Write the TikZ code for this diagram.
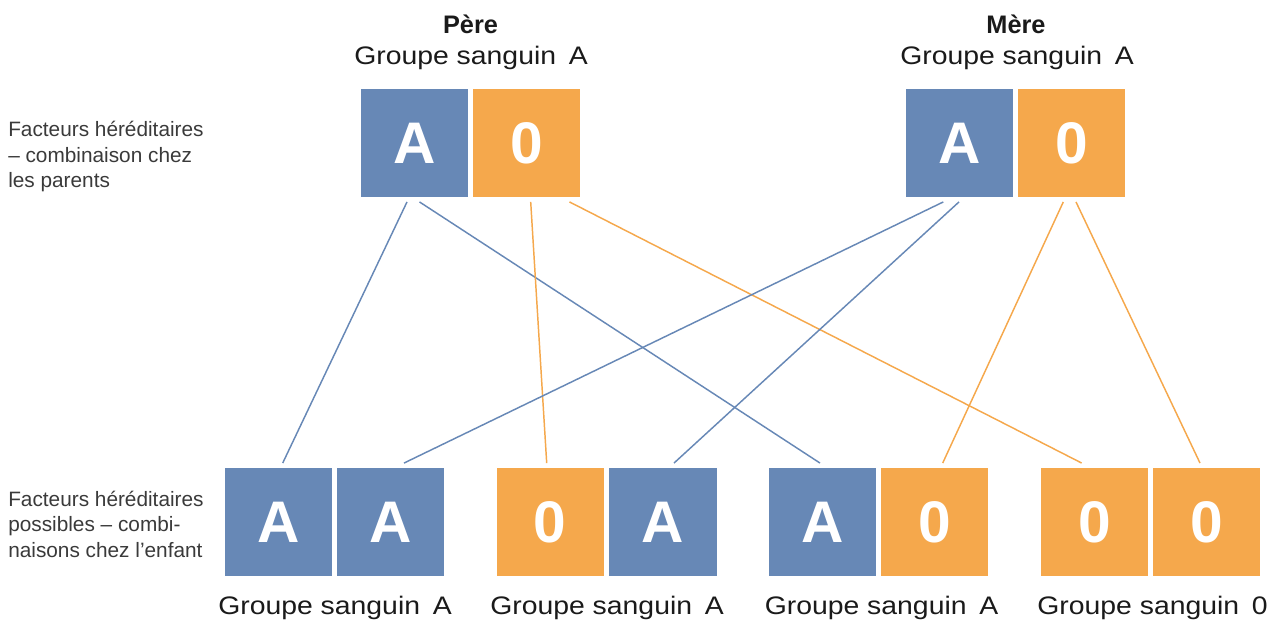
\documentclass[tikz,border=0pt]{standalone}
\usepackage{fontspec}
\setmainfont{Liberation Sans}
\newfontfamily\grpfont[FakeStretch=1.12]{Liberation Sans}
\usetikzlibrary{calc}
\definecolor{allA}{HTML}{6788B6}
\definecolor{all0}{HTML}{F5A84C}
\definecolor{txt}{HTML}{1A1A1A}
\definecolor{side}{HTML}{3A3A3A}
\tikzset{
  gbox/.style={rectangle, inner sep=0pt, minimum width=80.5pt, minimum height=80.5pt,
    text=white, font=\fontsize{44}{44}\selectfont\bfseries},
  boxA/.style={gbox, fill=allA},
  box0/.style={gbox, fill=all0},
  lineA/.style={draw=allA, line width=1.1pt},
  line0/.style={draw=all0, line width=1.1pt},
  grp/.style={inner sep=0pt, anchor=base, text=txt, font=\grpfont\fontsize{19}{19}\selectfont},
  parent/.style={inner sep=0pt, anchor=base, text=txt, font=\fontsize{19}{19}\selectfont\bfseries},
  sidetxt/.style={inner sep=0pt, anchor=base west, text=side, font=\fontsize{15.6}{15.6}\selectfont}
}
\begin{document}
\begin{tikzpicture}[x=0.75pt, y=-0.75pt]
\useasboundingbox (0,0) rectangle (1286,620);
% parents
\node[boxA] (pA) at (414.5,143) {A};
\node[box0] (p0) at (526.7,143) {0};
\node[boxA] (mA) at (959.5,143) {A};
\node[box0] (m0) at (1071.5,143) {0};
% children
\node[boxA] (c1) at (278.5,522) {A};
\node[boxA] (c2) at (390.8,522) {A};
\node[box0] (c3) at (550.2,522) {0};
\node[boxA] (c4) at (663,522) {A};
\node[boxA] (c5) at (822.5,522) {A};
\node[box0] (c6) at (934.7,522) {0};
\node[box0] (c7) at (1094.5,522) {0};
\node[box0] (c8) at (1206.6,522) {0};
% connectors
\draw[lineA] ($(pA.south)+(-7.5,5)$) -- ($(c1.north)+(4.2,-5)$);
\draw[lineA] ($(pA.south)+(5,5)$) -- ($(c5.north)+(-2.5,-5)$);
\draw[line0] ($(p0.south)+(4,5)$) -- ($(c3.north)+(-3.5,-5)$);
\draw[line0] ($(p0.south)+(42.8,5)$) -- ($(c7.north)+(-12.8,-5)$);
\draw[lineA] ($(mA.south)+(-16.2,5)$) -- ($(c2.north)+(13.2,-5)$);
\draw[lineA] ($(mA.south)+(-0.5,5)$) -- ($(c4.north)+(11,-5)$);
\draw[line0] ($(m0.south)+(-8.2,5)$) -- ($(c6.north)+(8,-5)$);
\draw[line0] ($(m0.south)+(4.5,5)$) -- ($(c8.north)+(-6.6,-5)$);
% labels
\node[parent] (tp) at (470.5,33.3) {Père};
\node[grp] (gp) at (471,65) {Groupe sanguin\hspace{0.5em}A};
\node[parent] (tm) at (1016,33.3) {Mère};
\node[grp] (gm) at (1017,65) {Groupe sanguin\hspace{0.5em}A};
\node[grp] (g1) at (335,614.3) {Groupe sanguin\hspace{0.5em}A};
\node[grp] (g2) at (607,614.3) {Groupe sanguin\hspace{0.5em}A};
\node[grp] (g3) at (881.5,614.3) {Groupe sanguin\hspace{0.5em}A};
\node[grp] (g4) at (1152.5,614.3) {Groupe sanguin\hspace{0.5em}0};
% side text
\node[sidetxt] (s1) at (8,136.7) {Facteurs héréditaires};
\node[sidetxt] (s2) at (8,162.2) {– combinaison chez};
\node[sidetxt] (s3) at (8,187.7) {les parents};
\node[sidetxt] (s4) at (8,506) {Facteurs héréditaires};
\node[sidetxt] (s5) at (8,531.6) {possibles – combi-};
\node[sidetxt] (s6) at (8,557.2) {naisons chez l’enfant};
\end{tikzpicture}
\end{document}
